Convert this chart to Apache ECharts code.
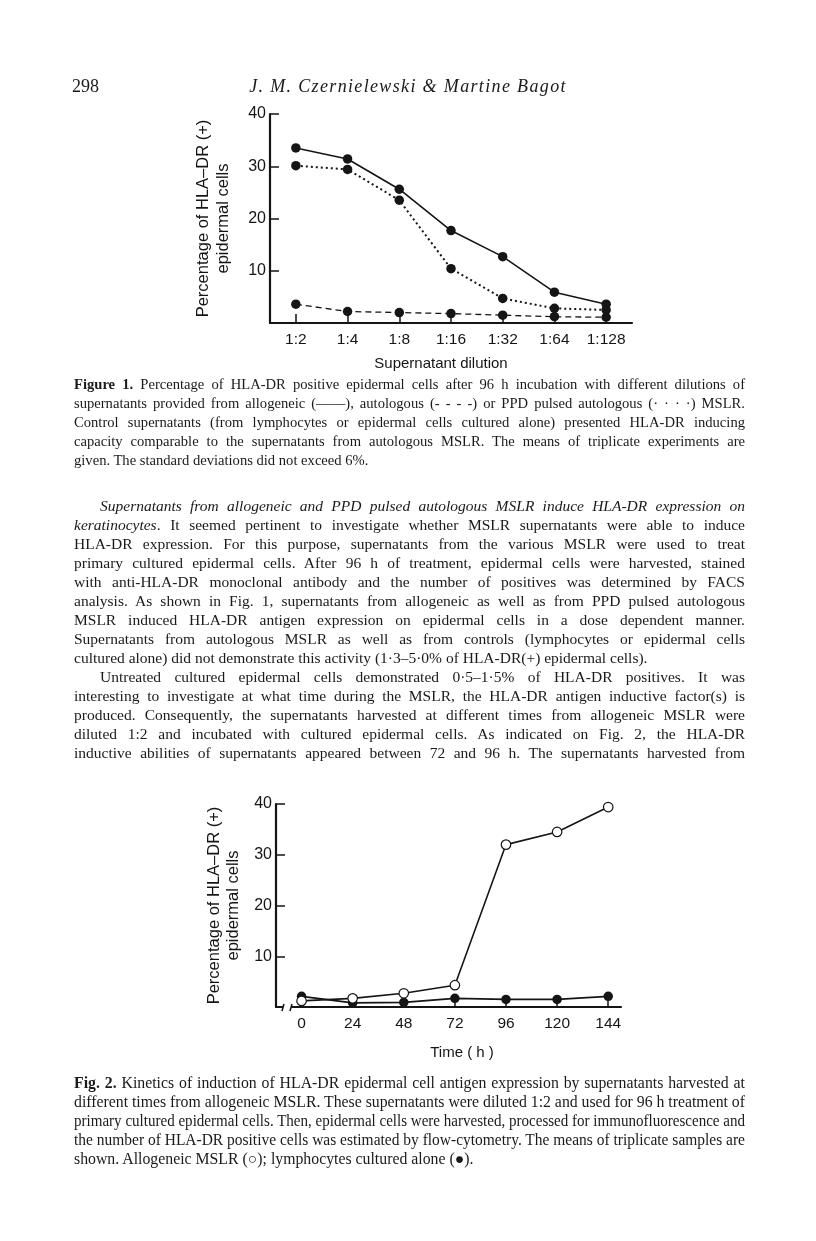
<!DOCTYPE html>
<html><head><meta charset="utf-8">
<script src="https://cdn.jsdelivr.net/npm/echarts@6/dist/echarts.min.js"></script>
<style>
html,body{margin:0;padding:0;background:#fff;}
#page{position:relative;width:816px;height:1241px;overflow:hidden;background:#fff;}
#chart{position:absolute;left:0;top:0;width:816px;height:1241px;}
.t{position:absolute;white-space:nowrap;color:#1a1a1a;font-family:"Liberation Serif","Times New Roman",serif;}
.t span{display:inline-block;transform-origin:left center;}
</style></head>
<body><div id="page"><div id="chart"></div></div>
<script>
// ---- Figure 1 data ----
const dilutions = ['1:2','1:4','1:8','1:16','1:32','1:64','1:128'];
const allogeneicDil = [33.5, 31.4, 25.6, 17.7, 12.7, 5.9, 3.6];
const ppdPulsedDil  = [30.1, 29.4, 23.5, 10.4, 4.7, 2.8, 2.5];
const autologousDil = [3.6, 2.2, 2.0, 1.8, 1.5, 1.2, 1.1];
const yTickValues = [10, 20, 30, 40];

// ---- Figure 2 data ----
const hours = [0, 24, 48, 72, 96, 120, 144];
const allogeneicTime  = [1.2, 1.7, 2.7, 4.3, 32.0, 34.5, 39.4];
const lymphocytesTime = [2.1, 0.8, 0.9, 1.7, 1.5, 1.5, 2.1];

const INK = '#151515';
const SANS = '"Liberation Sans", Arial, sans-serif';

function pairs(xs, ys){ return xs.map((x,i)=>[x, ys[i]]); }

const G1 = {left:270, top:114, width:362, height:209};
const G2 = {left:276, top:804, width:345, height:203};

const lineAx = {show:true, onZero:false, lineStyle:{color:INK, width:2.2}};
const tickSt = {color:INK, width:1.5};
const yName = 'Percentage of HLA\u2013DR (+)\nepidermal cells';

const chart = echarts.init(document.getElementById('chart'), null, {renderer:'canvas'});
chart.setOption({
  animation:false,
  backgroundColor:'#fff',
  grid:[G1, G2],
  xAxis:[
    {
      gridIndex:0, type:'category', data:dilutions, boundaryGap:true,
      axisLine:lineAx, splitLine:{show:false},
      axisTick:{show:true, inside:true, length:9, alignWithLabel:true, lineStyle:tickSt},
      axisLabel:{color:INK, fontFamily:SANS, fontSize:15.5, margin:9},
      name:'Supernatant dilution', nameLocation:'middle', nameGap:33,
      nameTextStyle:{color:INK, fontFamily:SANS, fontSize:15, padding:[0,20,0,0]}
    },
    {
      gridIndex:1, type:'value', min:-12, max:150,
      axisLine:lineAx, splitLine:{show:false},
      axisTick:{show:true, inside:true, length:9, customValues:hours, lineStyle:tickSt},
      axisLabel:{color:INK, fontFamily:SANS, fontSize:15.5, margin:9, customValues:hours},
      name:'Time ( h )', nameLocation:'middle', nameGap:38,
      nameTextStyle:{color:INK, fontFamily:SANS, fontSize:15, padding:[0,0,0,27]}
    }
  ],
  yAxis:[
    {
      gridIndex:0, type:'value', min:0, max:40,
      axisLine:lineAx, splitLine:{show:false},
      axisTick:{show:true, inside:true, length:9, customValues:yTickValues, lineStyle:tickSt},
      axisLabel:{color:INK, fontFamily:SANS, fontSize:16, margin:4, customValues:yTickValues},
      name:yName, nameLocation:'middle', nameGap:37, nameRotate:90,
      nameTextStyle:{color:INK, fontFamily:SANS, fontSize:16.5, lineHeight:20, align:'center'}
    },
    {
      gridIndex:1, type:'value', min:0, max:40,
      axisLine:lineAx, splitLine:{show:false},
      axisTick:{show:true, inside:true, length:9, customValues:yTickValues, lineStyle:tickSt},
      axisLabel:{color:INK, fontFamily:SANS, fontSize:16, margin:4, customValues:yTickValues},
      name:yName, nameLocation:'middle', nameGap:33, nameRotate:90,
      nameTextStyle:{color:INK, fontFamily:SANS, fontSize:16.5, lineHeight:19, align:'center'}
    }
  ],
  series:[
    {name:'Allogeneic MSLR', type:'line', xAxisIndex:0, yAxisIndex:0, data:allogeneicDil,
     symbol:'circle', symbolSize:9.5, itemStyle:{color:INK}, lineStyle:{color:INK, width:1.6, type:'solid'}},
    {name:'PPD pulsed autologous MSLR', type:'line', xAxisIndex:0, yAxisIndex:0, data:ppdPulsedDil,
     symbol:'circle', symbolSize:9.5, itemStyle:{color:INK}, lineStyle:{color:INK, width:2, type:[2,3]}},
    {name:'Autologous MSLR', type:'line', xAxisIndex:0, yAxisIndex:0, data:autologousDil,
     symbol:'circle', symbolSize:9.5, itemStyle:{color:INK}, lineStyle:{color:INK, width:1.3, type:[6,4]}},
    {name:'Allogeneic MSLR (time)', type:'line', xAxisIndex:1, yAxisIndex:1, data:pairs(hours, allogeneicTime),
     symbol:'circle', symbolSize:9.5, itemStyle:{color:'#fff', borderColor:INK, borderWidth:1.2},
     lineStyle:{color:INK, width:1.6}, z:3},
    {name:'Lymphocytes cultured alone', type:'line', xAxisIndex:1, yAxisIndex:1, data:pairs(hours, lymphocytesTime),
     symbol:'circle', symbolSize:9.5, itemStyle:{color:INK}, lineStyle:{color:INK, width:1.8}, z:2}
  ],
  // small axis-break mark on the Fig. 2 time axis
  graphic:[
    {type:'rect', left:G2.left + 7, top:G2.top + G2.height - 3, shape:{width:8, height:6}, style:{fill:'#fff'}, z:100},
    {type:'line', shape:{x1:G2.left + 6, y1:G2.top + G2.height + 4, x2:G2.left + 8, y2:G2.top + G2.height - 3}, style:{stroke:INK, lineWidth:1.5}, z:101},
    {type:'line', shape:{x1:G2.left + 14, y1:G2.top + G2.height + 4, x2:G2.left + 16, y2:G2.top + G2.height - 3}, style:{stroke:INK, lineWidth:1.5}, z:101}
  ]
});

// ---- page text ----
const page = document.getElementById('page');
const L = 74, W = 671;
function addLine(y, html, size, opts){
  opts = opts || {};
  const d = document.createElement('div');
  d.className = 't';
  const lh = Math.round(size*1.2);
  d.style.fontSize = size + 'px';
  d.style.lineHeight = lh + 'px';
  d.style.top = (y - lh/2) + 'px';
  const x = opts.x != null ? opts.x : L;
  d.style.left = x + 'px';
  if (opts.italic) d.style.fontStyle = 'italic';
  if (opts.ls) d.style.letterSpacing = opts.ls + 'px';
  const s = document.createElement('span');
  s.innerHTML = html;
  d.appendChild(s);
  page.appendChild(d);
  if (opts.justify) {
    const target = L + W - x;
    const w = s.getBoundingClientRect().width;
    const n = (s.textContent.match(/ /g) || []).length;
    if (w < target && n > 0) {
      s.style.wordSpacing = ((target - w) / n) + 'px';
    } else if (w > target) {
      s.style.transform = 'scaleX(' + (target / w) + ')';
    }
  }
  if (opts.center) {
    const w = s.getBoundingClientRect().width;
    d.style.left = (opts.center - w/2) + 'px';
  }
}

addLine(86, '298', 18, {x:72});
addLine(86, 'J. M. Czernielewski &amp; Martine Bagot', 18, {italic:true, ls:1.35, center:408});

const cap1 = [
  '<b>Figure 1.</b> Percentage of HLA-DR positive epidermal cells after 96 h incubation with different dilutions of',
  'supernatants provided from allogeneic (——), autologous (- - - -) or PPD pulsed autologous (· · · ·) MSLR.',
  'Control supernatants (from lymphocytes or epidermal cells cultured alone) presented HLA-DR inducing',
  'capacity comparable to the supernatants from autologous MSLR. The means of triplicate experiments are',
  'given. The standard deviations did not exceed 6%.'
];
cap1.forEach((t,i)=>addLine(384 + i*19, t, 14.6, {justify: i < cap1.length-1}));

const body = [
  ['<i>Supernatants from allogeneic and PPD pulsed autologous MSLR induce HLA-DR expression on</i>', 100, true],
  ['<i>keratinocytes</i>. It seemed pertinent to investigate whether MSLR supernatants were able to induce', L, true],
  ['HLA-DR expression. For this purpose, supernatants from the various MSLR were used to treat', L, true],
  ['primary cultured epidermal cells. After 96 h of treatment, epidermal cells were harvested, stained', L, true],
  ['with anti-HLA-DR monoclonal antibody and the number of positives was determined by FACS', L, true],
  ['analysis. As shown in Fig. 1, supernatants from allogeneic as well as from PPD pulsed autologous', L, true],
  ['MSLR induced HLA-DR antigen expression on epidermal cells in a dose dependent manner.', L, true],
  ['Supernatants from autologous MSLR as well as from controls (lymphocytes or epidermal cells', L, true],
  ['cultured alone) did not demonstrate this activity (1·3–5·0% of HLA-DR(+) epidermal cells).', L, false],
  ['Untreated cultured epidermal cells demonstrated 0·5–1·5% of HLA-DR positives. It was', 100, true],
  ['interesting to investigate at what time during the MSLR, the HLA-DR antigen inductive factor(s) is', L, true],
  ['produced. Consequently, the supernatants harvested at different times from allogeneic MSLR were', L, true],
  ['diluted 1:2 and incubated with cultured epidermal cells. As indicated on Fig. 2, the HLA-DR', L, true],
  ['inductive abilities of supernatants appeared between 72 and 96 h. The supernatants harvested from', L, true]
];
body.forEach((b,i)=>addLine(505 + i*19, b[0], 15.5, {x:b[1], justify:b[2]}));

const cap2 = [
  '<b>Fig. 2.</b> Kinetics of induction of HLA-DR epidermal cell antigen expression by supernatants harvested at',
  'different times from allogeneic MSLR. These supernatants were diluted 1:2 and used for 96 h treatment of',
  'primary cultured epidermal cells. Then, epidermal cells were harvested, processed for immunofluorescence and',
  'the number of HLA-DR positive cells was estimated by flow-cytometry. The means of triplicate samples are',
  'shown. Allogeneic MSLR (○); lymphocytes cultured alone (●).'
];
cap2.forEach((t,i)=>addLine(1082 + i*19, t, 15.8, {justify: i < cap2.length-1}));
</script>
</body></html>
